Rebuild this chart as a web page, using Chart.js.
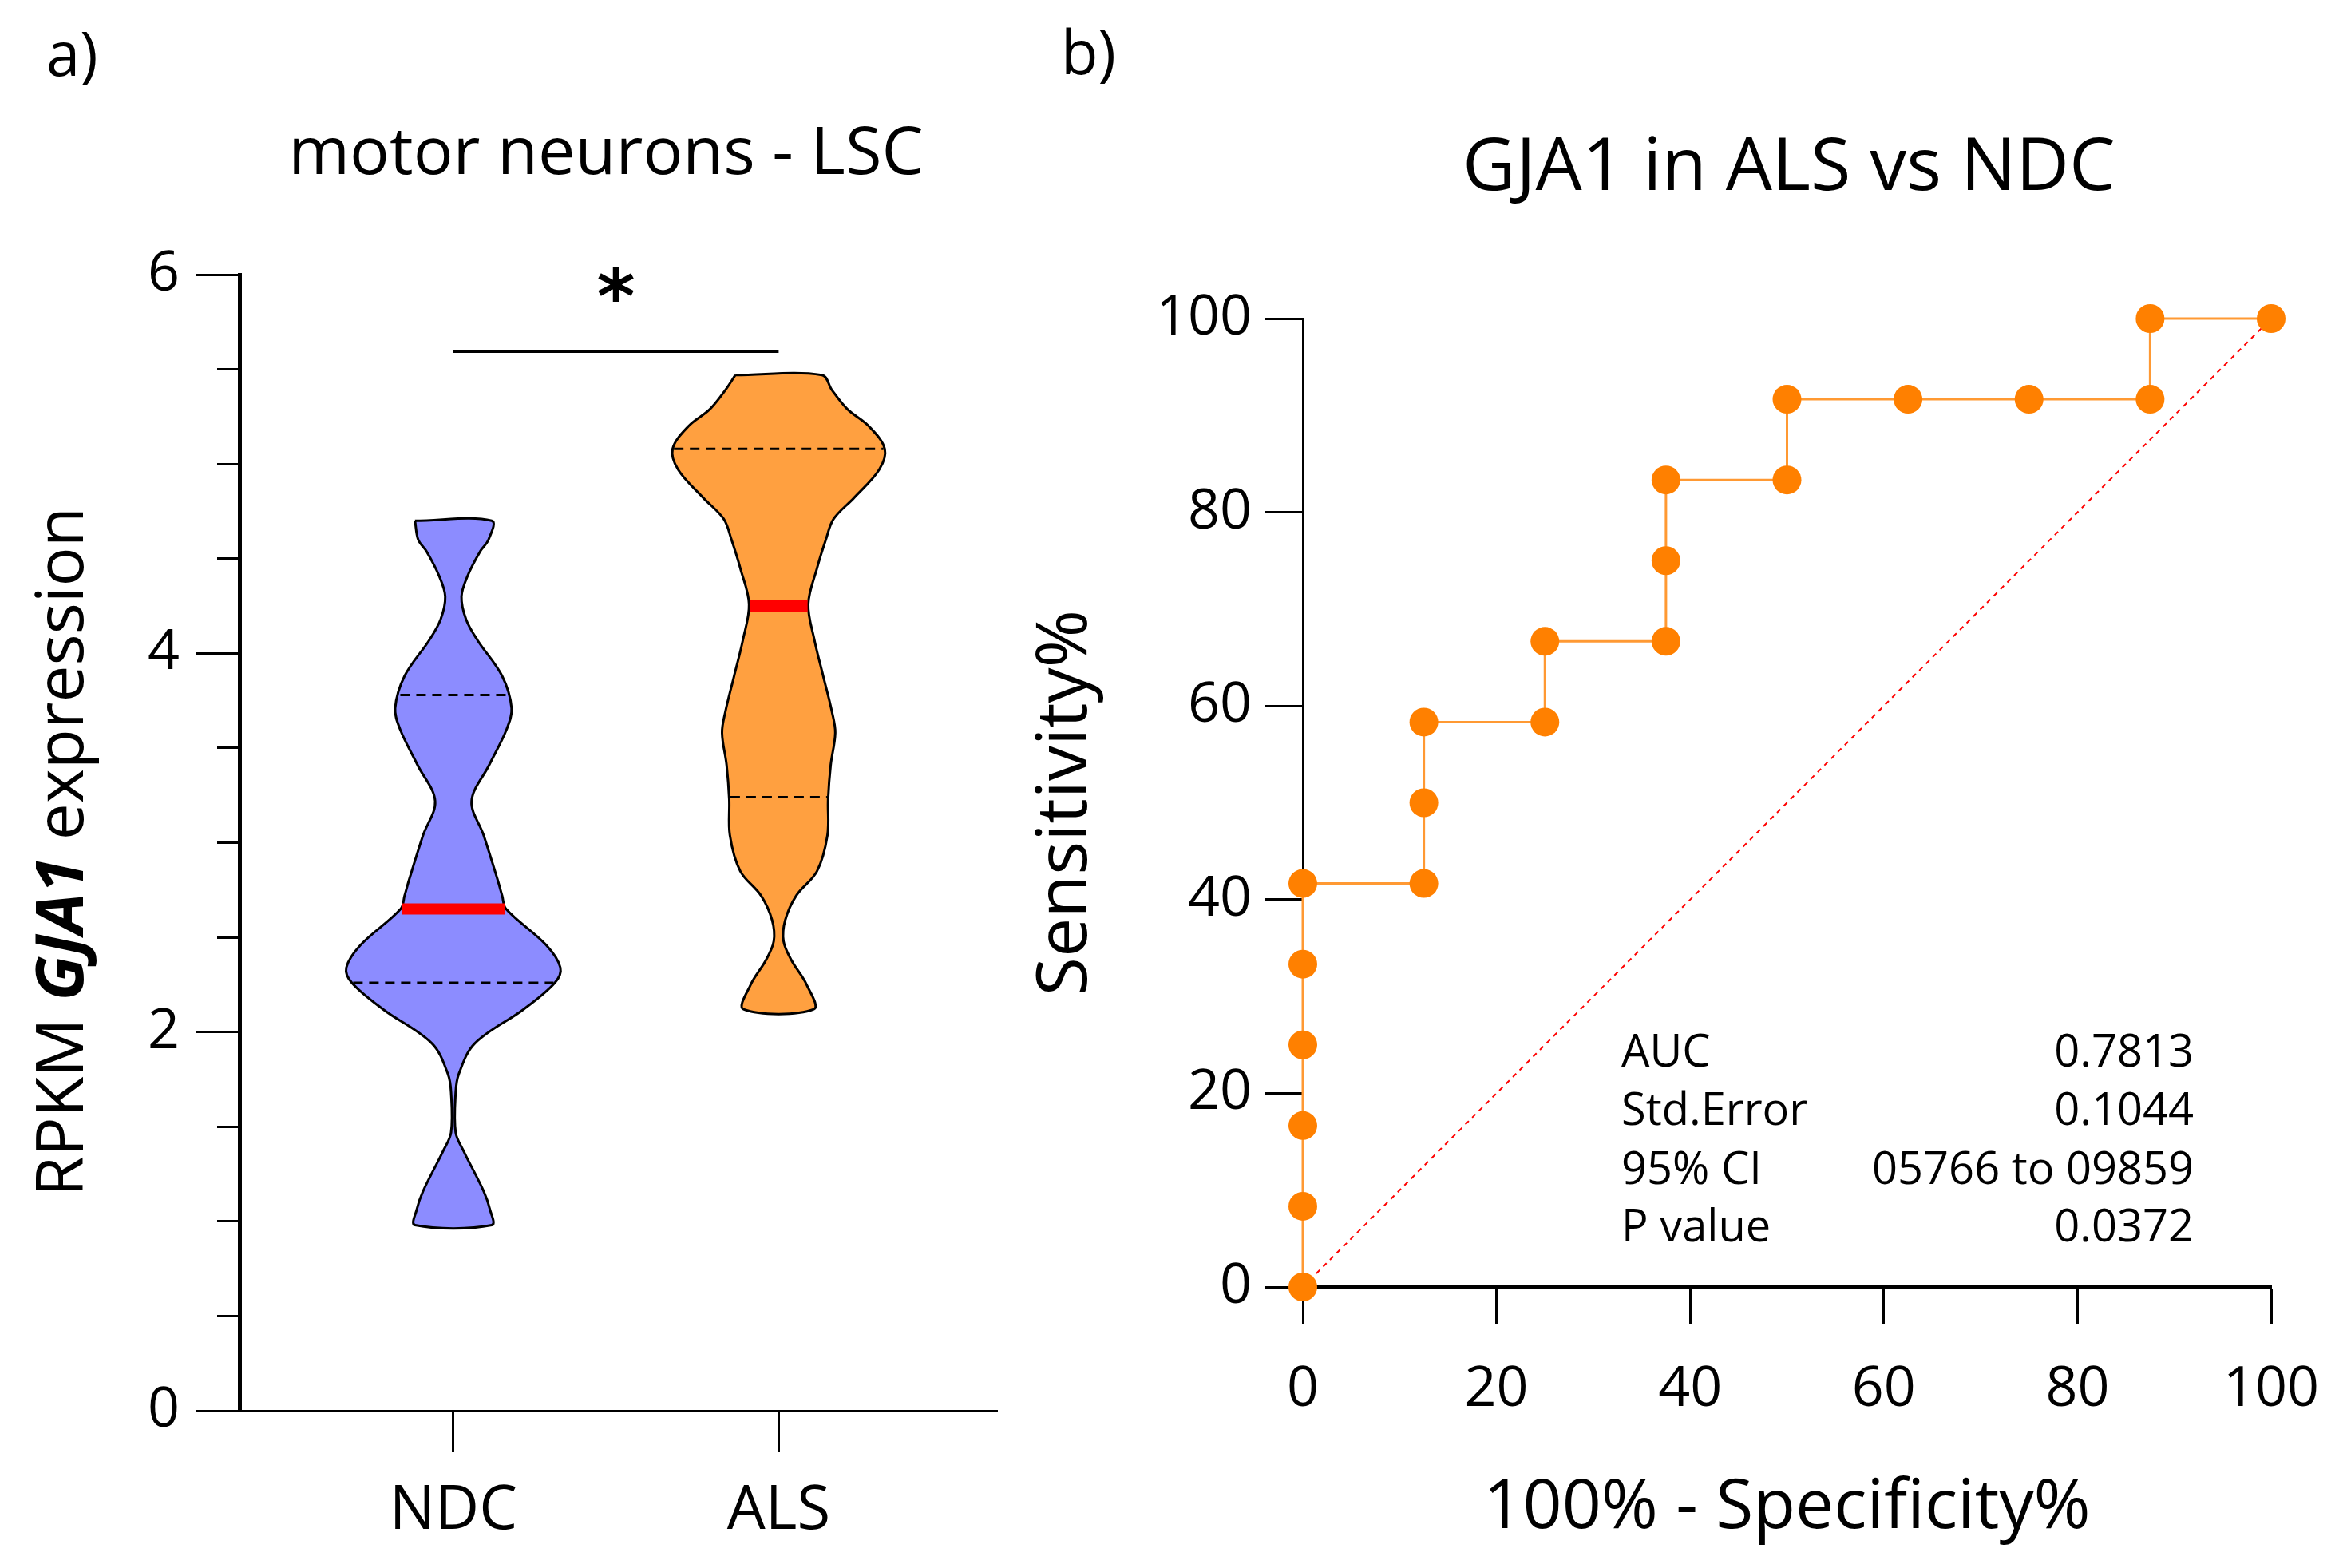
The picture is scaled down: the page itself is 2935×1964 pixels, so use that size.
<!DOCTYPE html>
<html>
<head>
<meta charset="utf-8">
<script src="https://cdn.jsdelivr.net/npm/chart.js@4/dist/chart.umd.min.js"></script>
<style>
html,body{margin:0;padding:0;background:#fff;}
body{width:2935px;height:1964px;position:relative;overflow:hidden;}
canvas{position:absolute;top:0;}
#ca{left:0;}
#cb{left:1250px;}
</style>
</head>
<body>
<canvas id="ca" width="1250" height="1964"></canvas>
<canvas id="cb" width="1685" height="1964"></canvas>
<script>
// ---------------- DATA ----------------
const violinCategories = ['NDC', 'ALS'];
// density outline of each violin: levels (RPKM) and half-widths (category units)
const ndcLevels = [4.70,4.60,4.54,4.41,4.30,4.18,4.07,3.88,3.71,3.60,3.41,3.22,3.04,2.81,2.72,2.65,2.46,2.34,2.26,2.12,1.94,1.78,1.68,1.47,1.37,1.16,1.06,0.98];
const ndcHalfWidths = [0.118,0.108,0.083,0.044,0.025,0.039,0.074,0.150,0.179,0.164,0.110,0.056,0.093,0.135,0.150,0.162,0.285,0.329,0.312,0.216,0.066,0.017,0.007,0.007,0.032,0.093,0.113,0.118];
const alsLevels = [5.47,5.39,5.29,5.20,5.08,4.97,4.82,4.71,4.60,4.45,4.26,4.07,3.88,3.69,3.58,3.41,3.23,3.04,2.85,2.72,2.59,2.48,2.38,2.25,2.12];
const alsHalfWidths = [0.133,0.164,0.211,0.277,0.326,0.309,0.231,0.169,0.145,0.118,0.091,0.110,0.137,0.164,0.174,0.160,0.152,0.150,0.118,0.054,0.020,0.015,0.039,0.086,0.108];
const medians = [2.65, 4.25];
const lowerQuartiles = [2.26, 3.24];
const upperQuartiles = [3.78, 5.08];
const yMajorTicksA = [0, 2, 4, 6];
const yMinorTicksA = [0, 0.5, 1, 1.5, 2, 2.5, 3, 3.5, 4, 4.5, 5, 5.5, 6];
const significanceLevel = 5.595;
const significanceStarLevel = 5.94;
const significanceMark = '*';

const rocFpr = [0,0,0,0,0,0,12.5,12.5,12.5,25,25,37.5,37.5,37.5,50,50,62.5,75,87.5,87.5,100];
const rocTpr = [0,8.33,16.67,25,33.33,41.67,41.67,50,58.33,58.33,66.67,66.67,75,83.33,83.33,91.67,91.67,91.67,91.67,100,100];
const chanceX = [0, 100];
const chanceY = [0, 100];
const rocTicks = [0, 20, 40, 60, 80, 100];
const statLabels = ['AUC', 'Std.Error', '95% CI', 'P value'];
const statValues = ['0.7813', '0.1044', '05766 to 09859', '0.0372'];

// ---------------- HELPERS ----------------
const FONT = '"Open Sans", "Noto Sans", sans-serif';
function violinPolygon(center, levels, hw) {
  const pts = [{x: center - hw[0], y: levels[0]}];
  for (let i = 0; i < levels.length; i++) pts.push({x: center + hw[i], y: levels[i]});
  for (let i = levels.length - 1; i >= 0; i--) pts.push({x: center - hw[i], y: levels[i]});
  return pts;
}
function widthAt(levels, hw, v) {
  for (let i = 0; i < levels.length - 1; i++) {
    const a = levels[i], b = levels[i + 1];
    if ((v <= a && v >= b)) {
      const t = (a - v) / (a - b);
      return hw[i] + t * (hw[i + 1] - hw[i]);
    }
  }
  return 0;
}
function hLine(center, w, v) { return [{x: center - w, y: v}, {x: center + w, y: v}]; }

const profiles = [[ndcLevels, ndcHalfWidths], [alsLevels, alsHalfWidths]];
const fills = ['#8c8cff', '#ffa040'];

const dsA = [];
violinCategories.forEach((c, i) => {
  const center = i + 1;
  const [lv, hw] = profiles[i];
  dsA.push({data: violinPolygon(center, lv, hw), borderColor: '#000', borderWidth: 3,
    backgroundColor: fills[i], fill: 'shape', tension: 0.35, pointRadius: 0, order: 3});
  [lowerQuartiles[i], upperQuartiles[i]].forEach(q => {
    dsA.push({data: hLine(center, widthAt(lv, hw, q) - 0.004, q), borderColor: '#000', borderWidth: 3,
      borderDash: [12, 8], pointRadius: 0, fill: false, order: 2});
  });
  dsA.push({data: hLine(center, widthAt(lv, hw, medians[i]) - 0.003, medians[i]), borderColor: '#ff0000',
    borderWidth: 14, borderCapStyle: 'butt', pointRadius: 0, fill: false, order: 1});
});
dsA.push({data: [{x: 1, y: significanceLevel}, {x: 2, y: significanceLevel}], borderColor: '#000',
  borderWidth: 4, pointRadius: 0, fill: false, order: 0});

const textA = {
  id: 'textA',
  afterDraw(chart) {
    const ctx = chart.ctx;
    ctx.save();
    ctx.fillStyle = '#000';
    ctx.textBaseline = 'alphabetic';
    ctx.textAlign = 'left';
    ctx.font = '76px ' + FONT;
    ctx.fillText('a)', 58, 95);
    ctx.textAlign = 'center';
    ctx.font = '83px ' + FONT;
    ctx.fillText('motor neurons - LSC', 759, 218);
    // significance star
    ctx.font = 'bold 92px "DejaVu Sans", sans-serif';
    ctx.textBaseline = 'middle';
    ctx.fillText(significanceMark, chart.scales.x.getPixelForValue(1.5), chart.scales.y.getPixelForValue(significanceStarLevel) + 22);
    // y-axis title with bold-italic gene name
    const parts = [['RPKM ', '82px ' + FONT], ['GJA1', 'italic bold 82px ' + FONT], [' expression', '82px ' + FONT]];
    let total = 0;
    parts.forEach(p => { ctx.font = p[1]; total += ctx.measureText(p[0]).width; });
    ctx.translate(104, 1067);
    ctx.rotate(-Math.PI / 2);
    ctx.textAlign = 'left';
    ctx.textBaseline = 'alphabetic';
    let x = -total / 2;
    parts.forEach(p => { ctx.font = p[1]; ctx.fillText(p[0], x, 0); x += ctx.measureText(p[0]).width; });
    ctx.restore();
  }
};

new Chart(document.getElementById('ca'), {
  type: 'line',
  data: {datasets: dsA},
  plugins: [textA],
  options: {
    responsive: false, animation: false, devicePixelRatio: 1,
    layout: {padding: {top: 344, right: 1, bottom: 47, left: 0}},
    plugins: {legend: {display: false}, tooltip: {enabled: false}, title: {display: false}},
    scales: {
      x: {
        type: 'linear', min: 0.3426, max: 2.6714,
        afterBuildTicks(s) { s.ticks = violinCategories.map((c, i) => ({value: i + 1})); },
        ticks: {callback: v => violinCategories[Math.round(v) - 1], font: {family: FONT, size: 76}, color: '#000', padding: 29, maxRotation: 0, autoSkip: false},
        grid: {drawOnChartArea: false, tickLength: 52, tickWidth: 3, color: '#000'},
        border: {color: '#000', width: 2.5},
        afterFit(s) { s.height = 150; s.paddingLeft = 0; s.paddingRight = 0; }
      },
      y: {
        min: 0, max: 6, weight: 1,
        afterBuildTicks(s) { s.ticks = yMajorTicksA.map(v => ({value: v})); },
        ticks: {font: {family: FONT, size: 70}, color: '#000', padding: 21},
        grid: {drawOnChartArea: false, tickLength: 54, tickWidth: 3, color: '#000'},
        border: {color: '#000', width: 5},
        afterFit(s) { s.width = 300; }
      },
      yMinor: {
        position: 'left', min: 0, max: 6, weight: 0,
        afterBuildTicks(s) { s.ticks = yMinorTicksA.map(v => ({value: v})); },
        ticks: {display: false},
        grid: {drawOnChartArea: false, tickLength: 28, tickWidth: 3, color: '#000'},
        border: {display: false},
        afterFit(s) { s.width = 0; }
      }
    }
  }
});

// ---------------- PANEL B ----------------
const textB = {
  id: 'textB',
  afterDraw(chart) {
    const ctx = chart.ctx;
    ctx.save();
    ctx.fillStyle = '#000';
    ctx.textBaseline = 'alphabetic';
    ctx.textAlign = 'left';
    ctx.font = '76px ' + FONT;
    ctx.fillText('b)', 79, 93);
    ctx.textAlign = 'center';
    ctx.font = '92px ' + FONT;
    ctx.fillText('GJA1 in ALS vs NDC', 991, 238);
    ctx.font = '56px ' + FONT;
    const base = [1336, 1409, 1483, 1555];
    statLabels.forEach((l, i) => {
      ctx.textAlign = 'left';
      ctx.fillText(l, 781, base[i]);
      ctx.textAlign = 'right';
      ctx.fillText(statValues[i], 1498, base[i]);
    });
    ctx.restore();
  }
};

new Chart(document.getElementById('cb'), {
  type: 'line',
  data: {datasets: [
    {data: rocFpr.map((x, i) => ({x, y: rocTpr[i]})), borderColor: '#ff9933', borderWidth: 3,
      pointRadius: 18, pointBackgroundColor: '#ff8000', pointBorderWidth: 0, fill: false,
      tension: 0, clip: false, order: 0},
    {data: chanceX.map((x, i) => ({x, y: chanceY[i]})), borderColor: '#ff0000', borderWidth: 2,
      borderDash: [6, 6], pointRadius: 0, fill: false, order: 1}
  ]},
  plugins: [textB],
  options: {
    responsive: false, animation: false, devicePixelRatio: 1,
    layout: {autoPadding: false, padding: {top: 399, right: 90, bottom: 22, left: 0}},
    plugins: {legend: {display: false}, tooltip: {enabled: false}, title: {display: false}},
    scales: {
      x: {
        type: 'linear', min: 0, max: 100,
        afterBuildTicks(s) { s.ticks = rocTicks.map(v => ({value: v})); },
        ticks: {font: {family: FONT, size: 70}, color: '#000', padding: 40, maxRotation: 0, autoSkip: false},
        grid: {drawOnChartArea: false, tickLength: 47, tickWidth: 3, color: '#000'},
        border: {color: '#000', width: 4},
        title: {display: true, text: '100% - Specificity%', color: '#000', font: {family: FONT, size: 86}, padding: {top: 0, bottom: 1}},
        afterFit(s) { s.height = 330; s.paddingLeft = 0; s.paddingRight = 0; }
      },
      y: {
        min: 0, max: 100,
        afterBuildTicks(s) { s.ticks = rocTicks.map(v => ({value: v})); },
        ticks: {font: {family: FONT, size: 70}, color: '#000', padding: 17},
        grid: {drawOnChartArea: false, tickLength: 47, tickWidth: 3, color: '#000'},
        border: {color: '#000', width: 3},
        title: {display: true, text: 'Sensitivity%', color: '#000', font: {family: FONT, size: 88}, padding: {top: 33, bottom: 0}},
        afterFit(s) { s.width = 382; }
      }
    }
  }
});
</script>
</body>
</html>
